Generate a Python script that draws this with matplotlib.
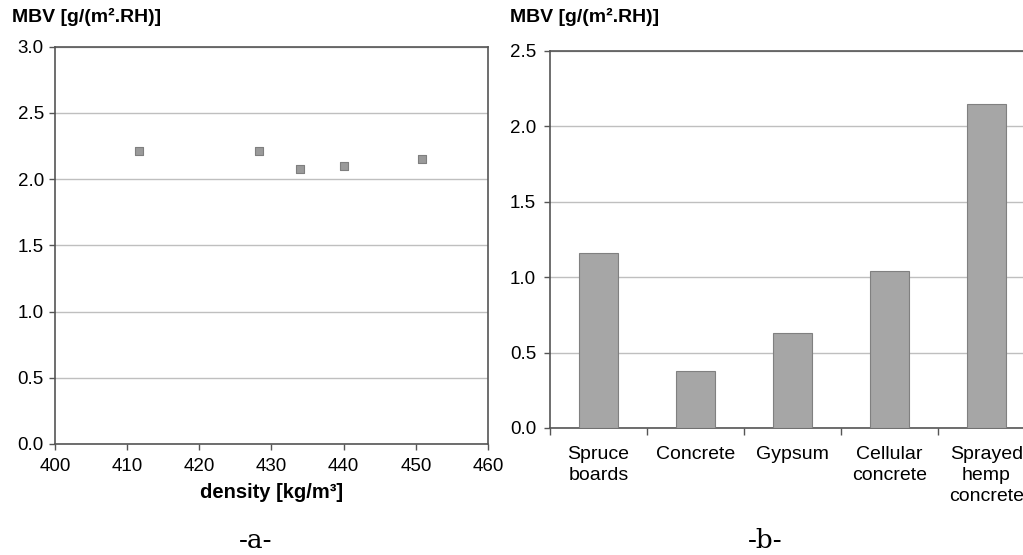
import matplotlib
matplotlib.use("Agg")
import matplotlib.pyplot as plt
import numpy as np

plt.rcParams['font.family'] = ['Liberation Sans', 'DejaVu Sans']

# Data
density = [411.6, 428.2, 433.9, 440.0, 450.9]
mbv_density = [2.21, 2.21, 2.08, 2.10, 2.15]

materials = ["Spruce\nboards", "Concrete", "Gypsum", "Cellular\nconcrete", "Sprayed\nhemp\nconcrete"]
mbv_materials = [1.16, 0.38, 0.63, 1.04, 2.15]

left_yticks = [0.0, 0.5, 1.0, 1.5, 2.0, 2.5, 3.0]
left_xticks = [400, 410, 420, 430, 440, 450, 460]
right_yticks = [0.0, 0.5, 1.0, 1.5, 2.0, 2.5]

W, H = 1023, 555
fig = plt.figure(figsize=(W / 100, H / 100), dpi=100)

spine_c = '#555555'
grid_c = '#bfbfbf'
tick_fs = 13.5

def px(x0, y0, x1, y1):
    return [x0 / W, 1 - y1 / H, (x1 - x0) / W, (y1 - y0) / H]

# Panel a
ax1 = fig.add_axes(px(55, 46.7, 488, 444))
ax1.scatter(density, mbv_density, marker='s', s=32, color='#9a9a9a',
            edgecolors='#7f7f7f', linewidths=0.8, zorder=3)
ax1.set_xlim(400, 460)
ax1.set_ylim(0, 3.0)
ax1.set_xticks(left_xticks)
ax1.set_yticks(left_yticks)
ax1.set_yticklabels([f"{v:.1f}" for v in left_yticks])
ax1.yaxis.grid(True, color=grid_c, linewidth=1)
ax1.set_axisbelow(True)
for s in ax1.spines.values():
    s.set_color(spine_c)
    s.set_linewidth(1.2)
ax1.tick_params(axis='y', colors=spine_c, labelcolor='black', labelsize=tick_fs,
                length=4, width=1, direction='out', pad=4)
ax1.tick_params(axis='x', colors=spine_c, labelcolor='black', labelsize=tick_fs,
                length=4, width=1, direction='out', pad=6)
ax1.set_xlabel("density [kg/m³]", fontsize=14.5, fontweight='bold', labelpad=6)
fig.text(12 / W, 1 - 17 / H, "MBV [g/(m².RH)]", fontsize=14, fontweight='bold',
         ha='left', va='center')

# Panel b
ax2 = fig.add_axes(px(550, 50.7, 1035, 428))
x = np.arange(len(materials))
ax2.bar(x, mbv_materials, width=0.4, color='#a6a6a6', edgecolor='#808080',
        linewidth=0.8, zorder=3)
ax2.set_xlim(-0.5, len(materials) - 0.5)
ax2.set_ylim(0, 2.5)
ax2.set_yticks(right_yticks)
ax2.set_yticklabels([f"{v:.1f}" for v in right_yticks])
ax2.set_xticks(x)
ax2.set_xticklabels(materials, fontsize=14, va='top', linespacing=1.3)
ax2.set_xticks(np.arange(-0.5, len(materials) + 0.5, 1), minor=True)
ax2.tick_params(axis='x', which='major', length=0, pad=13)
ax2.tick_params(axis='x', which='minor', length=5, width=1, colors=spine_c, direction='out')
ax2.tick_params(axis='y', colors=spine_c, labelcolor='black', labelsize=tick_fs,
                length=4, width=1, direction='out', pad=6)
ax2.yaxis.grid(True, color=grid_c, linewidth=1)
ax2.set_axisbelow(True)
for s in ax2.spines.values():
    s.set_color(spine_c)
    s.set_linewidth(1.2)
fig.text(510 / W, 1 - 17 / H, "MBV [g/(m².RH)]", fontsize=14, fontweight='bold',
         ha='left', va='center')

# Panel captions
serif = ['DejaVu Serif', 'Liberation Serif']
fig.text(256 / W, 1 - 540 / H, "-a-", fontsize=19, family=serif, ha='center', va='center')
fig.text(765 / W, 1 - 540 / H, "-b-", fontsize=19, family=serif, ha='center', va='center')

fig.savefig("out.png", dpi=100)
